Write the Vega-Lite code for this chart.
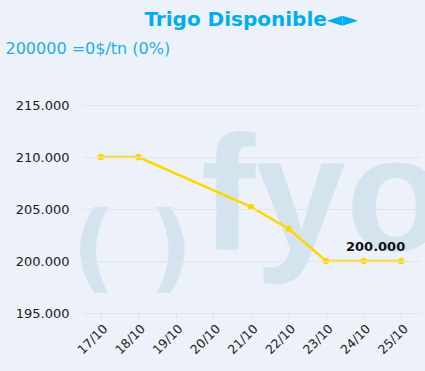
{
  "$schema": "https://vega.github.io/schema/vega-lite/v6.json",
  "width": 338,
  "height": 208,
  "autosize": "none",
  "padding": {"left": 82, "top": 105, "right": 5, "bottom": 58},
  "background": "#edf1f9",
  "config": {
    "view": {"stroke": null},
    "font": "DejaVu Sans",
    "locale": {"number": {"decimal": ",", "thousands": ".", "grouping": [3], "currency": ["$", ""]}}
  },
  "title": {
    "text": "Trigo Disponible◄►",
    "anchor": "middle",
    "fontSize": 20,
    "fontWeight": "bold",
    "color": "#00aeef",
    "offset": 10
  },
  "datasets": {
    "prices": [
      {"fecha": "17/10", "precio": 210000},
      {"fecha": "18/10", "precio": 210000},
      {"fecha": "21/10", "precio": 205200},
      {"fecha": "22/10", "precio": 203100},
      {"fecha": "23/10", "precio": 200000},
      {"fecha": "24/10", "precio": 200000},
      {"fecha": "25/10", "precio": 200000}
    ],
    "last": [{"fecha": "25/10", "precio": 200000}],
    "wm1": [{"fecha": "18/10", "precio": 201000, "t": "( )"}],
    "wm2": [{"fecha": "21/10", "precio": 201100, "t": "fyo"}]
  },
  "encoding": {
    "x": {
      "field": "fecha",
      "type": "ordinal",
      "scale": {"type": "point", "padding": 0.5, "domain": ["17/10", "18/10", "19/10", "20/10", "21/10", "22/10", "23/10", "24/10", "25/10"]},
      "axis": {
        "title": null,
        "labelAngle": -45,
        "labelFontSize": 12.5,
        "labelColor": "#222222",
        "domainColor": "#dde0e6",
        "tickColor": "#dde0e6",
        "tickSize": 6,
        "grid": false,
        "labelPadding": 3
      }
    },
    "y": {
      "field": "precio",
      "type": "quantitative",
      "scale": {"domain": [195000, 215000], "zero": false, "nice": false},
      "axis": {
        "values": [195000, 200000, 205000, 210000, 215000],
        "format": ",.0f",
        "labelFontSize": 13,
        "labelColor": "#222222",
        "labelPadding": 13,
        "ticks": false,
        "domain": false,
        "gridColor": "#e4e4e4",
        "zindex": 1,
        "title": "200000 =0$/tn (0%)",
        "titleAngle": 0,
        "titleAlign": "left",
        "titleBaseline": "alphabetic",
        "titleX": -77,
        "titleY": -52,
        "titleFontSize": 16,
        "titleFontWeight": "normal",
        "titleColor": "#1ab0e8"
      }
    }
  },
  "layer": [
    {
      "data": {"name": "wm1"},
      "mark": {"type": "text", "fontSize": 96, "fontWeight": "bold", "color": "#d3e4ee", "baseline": "middle", "align": "center", "dx": -6},
      "encoding": {"text": {"field": "t"}}
    },
    {
      "data": {"name": "wm2"},
      "mark": {"type": "text", "font": "Liberation Sans", "fontSize": 163, "fontWeight": "bold", "color": "#d3e4ee", "baseline": "alphabetic", "align": "left", "dx": -50},
      "encoding": {"text": {"field": "t"}}
    },
    {
      "data": {"name": "prices"},
      "mark": {"type": "line", "color": "#ffd700", "strokeWidth": 2.5, "point": {"filled": true, "size": 40, "color": "#ffd700"}}
    },
    {
      "data": {"name": "last"},
      "mark": {"type": "text", "fontSize": 13, "fontWeight": "bold", "color": "#111111", "align": "right", "dx": 4, "dy": -10, "baseline": "alphabetic"},
      "encoding": {"text": {"field": "precio", "type": "quantitative", "format": ",.0f"}}
    }
  ]
}
